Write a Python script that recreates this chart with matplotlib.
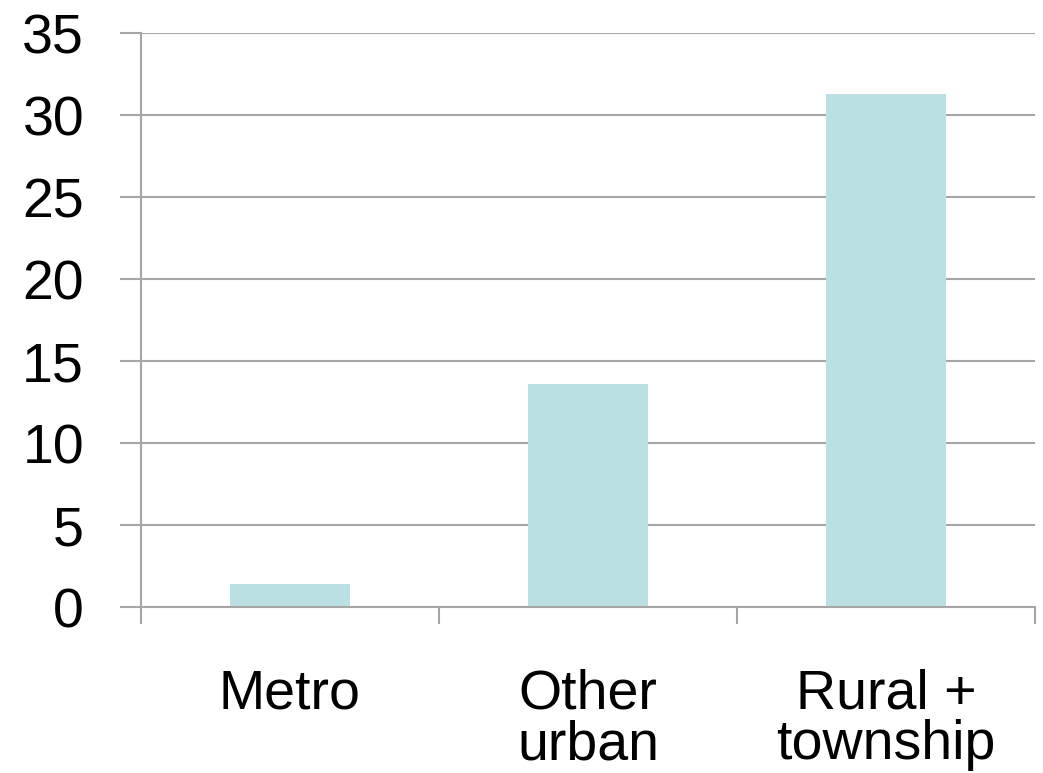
import matplotlib
matplotlib.use("Agg")
import matplotlib.pyplot as plt
from matplotlib.ticker import FixedLocator, NullFormatter

categories = ["Metro", "Other\nurban", "Rural +\ntownship"]
values = [1.4, 13.6, 31.3]
yticks = [0, 5, 10, 15, 20, 25, 30, 35]

plt.rcParams['font.family'] = ['Liberation Sans', 'DejaVu Sans']

W, H = 1043, 773
fig = plt.figure(figsize=(W / 100, H / 100), dpi=100)
ax = fig.add_axes([141 / W, (H - 607) / H, (1035 - 141) / W, (607 - 33.3) / H])

x = list(range(len(categories)))
ax.bar(x, values, width=0.4, color="#BBE0E3", zorder=2)

ax.set_xlim(-0.5, len(categories) - 0.5)
ax.set_ylim(0, 35)
ax.set_yticks(yticks)
ax.set_yticklabels([str(t) for t in yticks], fontsize=40)

grid_c = "#A6A6A6"
ax.yaxis.grid(True, color=grid_c, linewidth=1.5, zorder=0)
ax.set_axisbelow(True)

for s in ["top", "right"]:
    ax.spines[s].set_visible(False)
for s in ["left", "bottom"]:
    ax.spines[s].set_color(grid_c)
    ax.spines[s].set_linewidth(1.5)

ax.tick_params(axis="y", length=15, width=1.5, color=grid_c, pad=26, labelcolor="black")

# category boundary ticks on x axis
ax.xaxis.set_major_locator(FixedLocator([i - 0.5 for i in range(len(categories) + 1)]))
ax.xaxis.set_major_formatter(NullFormatter())
ax.xaxis.set_minor_locator(FixedLocator(x))
ax.set_xticklabels(categories, minor=True, fontsize=40, linespacing=0.98, va="top")
ax.tick_params(axis="x", which="major", length=12, width=1.5, color=grid_c)
ax.tick_params(axis="x", which="minor", length=0, pad=44, labelcolor="black")

fig.savefig("out.png", dpi=100, facecolor="white")
